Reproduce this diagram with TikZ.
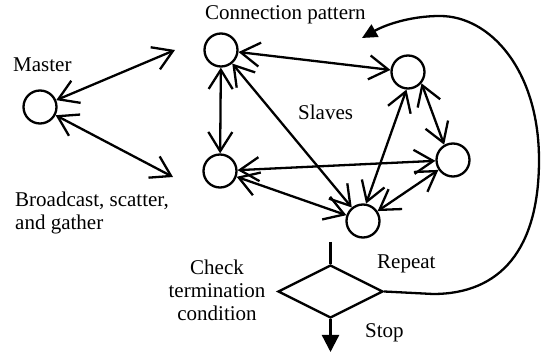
\documentclass[tikz,border=0pt]{standalone}
\usepackage{fontspec}
\setmainfont{Liberation Serif}
\usetikzlibrary{arrows.meta,shapes.geometric}
\begin{document}
\begin{tikzpicture}[x=1pt,y=-1pt,
  every node/.style={font=\fontsize{21}{23}\selectfont},
  proc/.style={circle,draw,line width=2.3pt,minimum size=33pt,inner sep=0pt},
  lbl/.style={inner sep=0pt,anchor=base west},
  barb/.tip={Straight Barb[length=12pt,width=15pt,line width=2.3pt,scale=1.6]},
  link/.style={line width=2.3pt,barb-barb},
  flow/.style={line width=2.3pt}
]
\useasboundingbox (0,0) rectangle (541,352);
% processes
\node[proc] (M) at (40,107) {};
\node[proc] (A) at (221,50) {};
\node[proc] (B) at (408,72) {};
\node[proc] (C) at (453,160) {};
\node[proc] (D) at (220,171) {};
\node[proc] (E) at (363,221) {};
% free ends of master links
\coordinate (mA) at (175,50);
\coordinate (mD) at (173,177);
% links
\draw[link] (M) -- (mA);
\draw[link] (M) -- (mD);
\draw[link] (A) -- (D);
\draw[link] (A) -- (B);
\draw[link] (A) -- (E);
\draw[link] (D) -- (C);
\draw[link] (D) -- (E);
\draw[link] (B.-40) -- (C.120);
\draw[link] (E.80) -- (B.-95);
\draw[link] (E) -- (C);
% decision
\node[diamond,draw,line width=2.3pt,minimum width=105pt,minimum height=53pt,inner sep=0pt,aspect=2] (dia) at (330.5,291.5) {};
\coordinate (dtop) at (330.5,242);
\coordinate (stopend) at (330.5,352);
\coordinate (r1) at (433,294);
\coordinate (rtip) at (362,38);
\draw[flow] (dtop) -- (dia.north);
\draw[flow,-{Triangle[length=17pt,width=17pt]}] (dia.south) -- (stopend);
\draw[flow,-{Triangle[length=15pt,width=14pt]}] (dia.east) -- (r1)
  .. controls (500,294) and (539,250) .. (539,160)
  .. controls (539,70) and (490,16) .. (440,16)
  .. controls (410,16) and (385,25) .. (rtip);
% labels
\node[lbl] (tM) at (13,72) {Master};
\node[lbl] (tC) at (205,20) {Connection pattern};
\node[lbl] (tS) at (298,120) {Slaves};
\node[lbl] (tB) at (15,207) {\begin{tabular}[t]{@{}l@{}}Broadcast, scatter,\\and gather\end{tabular}};
\node[inner sep=0pt,anchor=base] (tK) at (217,275) {\begin{tabular}[t]{@{}c@{}}Check\\termination\\condition\end{tabular}};
\node[lbl] (tR) at (377,269) {Repeat};
\node[lbl] (tP) at (365,338) {Stop};
\end{tikzpicture}
\end{document}
